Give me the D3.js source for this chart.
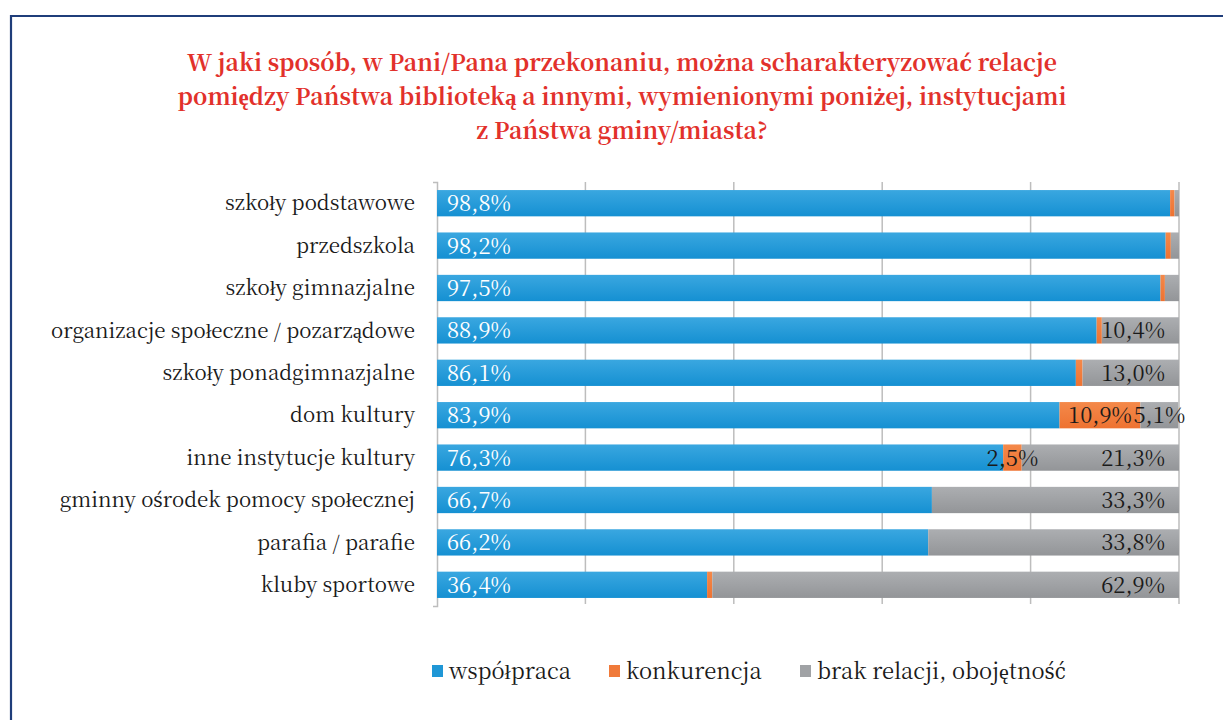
<!DOCTYPE html>
<html><head><meta charset="utf-8">
<script src="https://cdn.jsdelivr.net/npm/d3@7"></script>
<style>body{margin:0;background:#fff}svg{display:block}
.sf{font-family:"Noto Serif CJK SC",serif}
.fx{font-family:"DejaVu Serif Condensed","DejaVu Serif",serif}</style>
</head><body>
<script>
const categories = ["szkoły podstawowe","przedszkola","szkoły gimnazjalne","organizacje społeczne / pozarządowe","szkoły ponadgimnazjalne","dom kultury","inne instytucje kultury","gminny ośrodek pomocy społecznej","parafia / parafie","kluby sportowe"];
const wspolpraca = [98.8,98.2,97.5,88.9,86.1,83.9,76.3,66.7,66.2,36.4];
const konkurencja = [0.6,0.7,0.6,0.7,0.9,10.9,2.5,0,0,0.7];
const brak = [0.6,1.1,1.9,10.4,13.0,5.1,21.3,33.3,33.8,62.9];
const seriesNames = ["współpraca","konkurencja","brak relacji, obojętność"];
const showKonk = [false,false,false,false,false,true,true,false,false,false];
const showBrak = [false,false,false,true,true,true,true,true,true,true];
const xTicks = [0,20,40,60,80,100];
const fmt = v => v.toFixed(1).replace(".", ",") + "%";

// write text, routing glyphs missing from the CJK serif font to a fallback serif
const special = /[ćśźżĆŚŹŻ]/;
function rich(sel, str){
  sel.text(null);
  let buf="";
  const flush=()=>{if(buf){sel.append("tspan").text(buf);buf="";}};
  for(const ch of str){
    if(special.test(ch)){flush();sel.append("tspan").attr("class","fx").text(ch);}
    else buf+=ch;
  }
  flush();
}

const W=1223,H=720;
const svg=d3.select("body").append("svg").attr("width",W).attr("height",H);
const defs=svg.append("defs");
function grad(id,top,bot){const g=defs.append("linearGradient").attr("id",id).attr("x1",0).attr("y1",0).attr("x2",0).attr("y2",1);
 g.append("stop").attr("offset","0%").attr("stop-color",top);g.append("stop").attr("offset","100%").attr("stop-color",bot);}
grad("gb","#3aa7e0","#1590d2");grad("go","#f4894a","#ee7231");grad("gg","#acaeb1","#939598");
const fills=["url(#gb)","url(#go)","url(#gg)"];
const solid=["#1f97d6","#f07a3a","#a0a2a5"];

svg.append("path").attr("d","M11,720 V16 H1223").attr("fill","none").attr("stroke","#1f3d7a").attr("stroke-width",2.2);

const title=["W jaki sposób, w Pani/Pana przekonaniu, można scharakteryzować relacje","pomiędzy Państwa biblioteką a innymi, wymienionymi poniżej, instytucjami","z Państwa gminy/miasta?"];
svg.append("g").attr("class","sf").selectAll("text").data(title).join("text")
 .attr("x",622).attr("y",(d,i)=>71+i*34).attr("text-anchor","middle")
 .attr("font-weight","bold").attr("font-size",23)
 .attr("fill","#e2312b").each(function(d){rich(d3.select(this),d);});

const x=d3.scaleLinear().domain([0,100]).range([437,1179]);
const y=d3.scaleBand().domain(categories).range([182,606]).paddingInner(0.38).paddingOuter(0.19);

svg.append("g").selectAll("line").data(xTicks.slice(1)).join("line")
 .attr("x1",d=>x(d)).attr("x2",d=>x(d)).attr("y1",182).attr("y2",604)
 .attr("stroke","#bdbdbd").attr("stroke-width",1.5);

const ya=svg.append("g").attr("transform","translate(437,0)")
 .call(d3.axisLeft(y).tickSize(0).tickSizeOuter(4).tickPadding(22));
ya.attr("font-family",null);
ya.select(".domain").attr("stroke","#bdbdbd").attr("stroke-width",1.5);
ya.selectAll(".tick text").attr("class","sf").attr("font-size",20.5).attr("fill","#1a1a1a").attr("dy","0.35em")
 .each(function(d){rich(d3.select(this),d);});

const rows=categories.map((c,i)=>({c,v:[wspolpraca[i],konkurencja[i],brak[i]],i}));
const segs=[];
rows.forEach(r=>{let acc=0;r.v.forEach((v,k)=>{segs.push({c:r.c,i:r.i,k,x0:acc,x1:acc+v,v});acc+=v;});});
const bh=y.bandwidth();
svg.append("g").selectAll("rect").data(segs.filter(s=>s.v>0)).join("rect")
 .attr("x",s=>x(s.x0)).attr("width",s=>x(Math.min(100,s.x1))-x(s.x0))
 .attr("y",s=>y(s.c)).attr("height",bh).attr("fill",s=>fills[s.k]);

const lab=svg.append("g").attr("class","sf").attr("font-size",22);
rows.forEach(r=>{
 const cy=y(r.c)+bh/2+8;
 lab.append("text").attr("x",x(0)+10).attr("y",cy).attr("fill","#fff").text(fmt(r.v[0]));
 if(showKonk[r.i]){lab.append("text").attr("x",x(r.v[0]+r.v[1]/2)).attr("y",cy).attr("text-anchor","middle").attr("fill","#1a1a1a").text(fmt(r.v[1]));}
 if(showBrak[r.i]){
  if(r.v[2]<8){lab.append("text").attr("x",x(r.v[0]+r.v[1]+r.v[2]/2)).attr("y",cy).attr("text-anchor","middle").attr("fill","#1a1a1a").text(fmt(r.v[2]));}
  else lab.append("text").attr("x",x(100)-14).attr("y",cy).attr("text-anchor","end").attr("fill","#1a1a1a").text(fmt(r.v[2]));
 }
});

const lx=[432,609,800];
const lg=svg.append("g").attr("class","sf").attr("font-size",22);
seriesNames.forEach((n,k)=>{
 lg.append("rect").attr("x",lx[k]).attr("y",665).attr("width",11).attr("height",12).attr("fill",solid[k]);
 lg.append("text").attr("x",lx[k]+17).attr("y",679).attr("fill","#1a1a1a").each(function(){rich(d3.select(this),n);});
});
</script>
</body></html>
